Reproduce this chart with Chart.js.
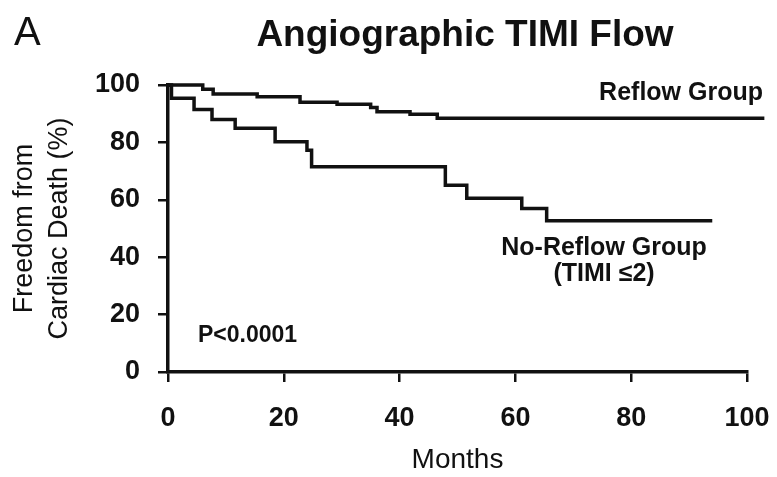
<!DOCTYPE html>
<html>
<head>
<meta charset="utf-8">
<script src="https://cdn.jsdelivr.net/npm/chart.js@4"></script>
<style>
  body { margin: 0; background: #fff; }
  canvas { display: block; }
</style>
</head>
<body>
<canvas id="km" width="777" height="477"></canvas>
<script>
// Kaplan-Meier steps (months, % free from cardiac death)
var reflowMonths = [0, 6.0, 7.8, 15.4, 22.8, 29.2, 35.0, 36.1, 41.8, 46.5, 103];
var reflowSurv   = [100, 98.5, 96.9, 95.9, 94.0, 93.3, 92.2, 90.7, 89.8, 88.4, 88.4];

var noReflowMonths = [0, 0.6, 4.5, 7.6, 11.6, 18.5, 24.0, 24.8, 47.9, 51.6, 61.1, 65.4, 94.0];
var noReflowSurv   = [100, 95.4, 91.5, 88.0, 84.9, 80.2, 77.3, 71.5, 65.1, 60.5, 57.0, 52.7, 52.7];

var xTicks = [0, 20, 40, 60, 80, 100];
var yTicks = [0, 20, 40, 60, 80, 100];

var FONT = '"Liberation Sans", Arial, sans-serif';
var INK = '#111';

function toPoints(xs, ys) {
  var pts = [];
  for (var i = 0; i < xs.length; i++) {
    pts.push({x: xs[i], y: ys[i]});
  }
  return pts;
}

// labels drawn on top of the plot
var labels = {
  id: 'labels',
  afterDraw: function(chart) {
    var c = chart.ctx;
    c.save();
    c.fillStyle = INK;
    c.textBaseline = 'middle';

    c.font = '40px ' + FONT;
    c.textAlign = 'left';
    c.fillText('A', 14, 34);

    c.font = 'bold 37px ' + FONT;
    c.textAlign = 'center';
    c.fillText('Angiographic TIMI Flow', 465, 36);

    c.font = 'bold 25px ' + FONT;
    c.textAlign = 'right';
    c.fillText('Reflow Group', 763, 93);

    c.textAlign = 'center';
    c.fillText('No-Reflow Group', 604, 248);
    c.fillText('(TIMI \u22642)', 604, 274);

    c.font = 'bold 23px ' + FONT;
    c.textAlign = 'left';
    c.fillText('P<0.0001', 198, 336);
    c.restore();
  }
};

var ctx = document.getElementById('km');

var chart = new Chart(ctx, {
  type: 'line',
  data: {
    datasets: [{
      label: 'Reflow Group',
      data: toPoints(reflowMonths, reflowSurv),
      stepped: true,
      borderColor: INK,
      borderWidth: 3.5,
      pointRadius: 0,
      fill: false,
      clip: false
    }, {
      label: 'No-Reflow Group',
      data: toPoints(noReflowMonths, noReflowSurv),
      stepped: true,
      borderColor: INK,
      borderWidth: 3.5,
      pointRadius: 0,
      fill: false,
      clip: false
    }]
  },
  options: {
    responsive: false,
    animation: false,
    devicePixelRatio: 1,
    layout: { padding: { top: 85, right: 30, left: 0, bottom: 0 } },
    plugins: {
      legend: { display: false },
      tooltip: { enabled: false }
    },
    scales: {
      x: {
        type: 'linear',
        min: 0,
        max: 100,
        afterBuildTicks: function(s) { s.ticks = xTicks.map(function(v) { return {value: v}; }); },
        afterFit: function(s) { s.height = 105; s.paddingLeft = 0; s.paddingRight = 0; },
        ticks: {
          color: INK,
          font: { family: FONT, size: 27, weight: 'bold' },
          padding: 20,
          maxRotation: 0
        },
        grid: { drawOnChartArea: false, tickLength: 10, color: INK, lineWidth: 2.5 },
        border: { color: INK, width: 3.5 },
        title: {
          display: true,
          text: 'Months',
          color: INK,
          font: { family: FONT, size: 28 },
          padding: { top: 0, bottom: 0 }
        }
      },
      y: {
        min: 0,
        max: 100,
        afterBuildTicks: function(s) { s.ticks = yTicks.map(function(v) { return {value: v}; }); },
        afterFit: function(s) { s.width = 168; s.paddingTop = 0; s.paddingBottom = 0; },
        ticks: {
          color: INK,
          font: { family: FONT, size: 27, weight: 'bold' },
          padding: 18
        },
        grid: { drawOnChartArea: false, tickLength: 10, color: INK, lineWidth: 2.5 },
        border: { color: INK, width: 3.5 },
        title: {
          display: true,
          text: ['Freedom from', 'Cardiac Death (%)'],
          color: INK,
          font: { family: FONT, size: 27, lineHeight: 1.3 },
          padding: { top: 7, bottom: 0 }
        }
      }
    }
  },
  plugins: [labels]
});
</script>
</body>
</html>
